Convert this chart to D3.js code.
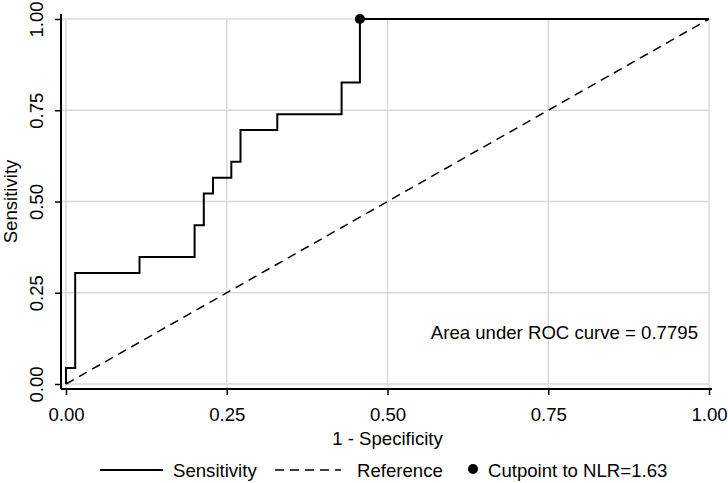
<!DOCTYPE html>
<html><head><meta charset="utf-8">
<script src="https://cdn.jsdelivr.net/npm/d3@7"></script>
<style>body{margin:0;background:#fff}svg{display:block}text{font-family:"Liberation Sans",Arial,sans-serif;fill:#000}</style>
</head><body>
<script>
// ROC step curve vertices (1 - specificity, sensitivity)
const fpr  = [0, 0, 0.0143, 0.0143, 0.1143, 0.1143, 0.2000, 0.2000, 0.2143, 0.2143, 0.2286, 0.2286, 0.2571, 0.2571, 0.2714, 0.2714, 0.3286, 0.3286, 0.4286, 0.4286, 0.4571, 0.4571, 1.0];
const sens = [0, 0.0435, 0.0435, 0.3043, 0.3043, 0.3478, 0.3478, 0.4348, 0.4348, 0.5217, 0.5217, 0.5652, 0.5652, 0.6087, 0.6087, 0.6957, 0.6957, 0.7391, 0.7391, 0.8261, 0.8261, 1.0, 1.0];
const cutpoint = [0.4571, 1.0];
const xTicks = [0, 0.25, 0.5, 0.75, 1];
const yTicks = [0, 0.25, 0.5, 0.75, 1];
const aucLabel = "Area under ROC curve = 0.7795";
const legendLabels = ["Sensitivity", "Reference", "Cutpoint to NLR=1.63"];

const W = 728, H = 483;
const svg = d3.select("body").append("svg").attr("width", W).attr("height", H);
const x = d3.scaleLinear().domain([0, 1]).range([66, 709]);
const y = d3.scaleLinear().domain([0, 1]).range([384, 19]);
const fs = 18.6;

// grid
svg.append("g").selectAll("line").data(yTicks).join("line")
  .attr("x1", 62).attr("x2", x(1)).attr("y1", d => y(d)).attr("y2", d => y(d))
  .attr("stroke", "#d9d9d9").attr("stroke-width", 1.5);
svg.append("g").selectAll("line").data(xTicks).join("line")
  .attr("x1", d => x(d)).attr("x2", d => x(d)).attr("y1", y(1)).attr("y2", 388)
  .attr("stroke", "#d9d9d9").attr("stroke-width", 1.5);

// axes
const xAxis = d3.axisBottom(x).tickValues(xTicks).tickFormat(d3.format(".2f")).tickSize(6).tickPadding(6);
const gx = svg.append("g").attr("transform", "translate(0,389)").call(xAxis);
gx.select(".domain").attr("d", "M61,0H712").attr("stroke", "#000").attr("stroke-width", 2);
gx.selectAll(".tick line").attr("stroke", "#000").attr("stroke-width", 1.5);
gx.selectAll(".tick text").attr("font-size", fs).attr("font-family", "Liberation Sans, Arial, sans-serif")
  .attr("dy", null).attr("y", 32);

const yAxis = d3.axisLeft(y).tickValues(yTicks).tickFormat(d3.format(".2f")).tickSize(6).tickPadding(6);
const gy = svg.append("g").attr("transform", "translate(61,0)").call(yAxis);
gy.select(".domain").attr("d", "M0,14V389").attr("stroke", "#000").attr("stroke-width", 2);
gy.selectAll(".tick line").attr("stroke", "#000").attr("stroke-width", 1.5);
gy.selectAll(".tick text").attr("font-size", fs).attr("font-family", "Liberation Sans, Arial, sans-serif")
  .attr("text-anchor", "middle").attr("dy", null)
  .attr("transform", "translate(-18,0) rotate(-90)").attr("x", 0).attr("y", 0);

// reference diagonal
svg.append("line").attr("x1", x(0)).attr("y1", y(0)).attr("x2", x(1)).attr("y2", y(1))
  .attr("stroke", "#000").attr("stroke-width", 1.5).attr("stroke-dasharray", "9,6");

// ROC curve
const pts = fpr.map((f, i) => [f, sens[i]]);
svg.append("path").datum(pts)
  .attr("d", d3.line().x(d => x(d[0])).y(d => y(d[1])))
  .attr("fill", "none").attr("stroke", "#000").attr("stroke-width", 2);

// cutpoint
svg.append("circle").attr("cx", x(cutpoint[0])).attr("cy", y(cutpoint[1])).attr("r", 5).attr("fill", "#000");

// AUC text
svg.append("text").attr("x", 698).attr("y", 339).attr("text-anchor", "end").attr("font-size", fs).text(aucLabel);

// axis titles
svg.append("text").attr("x", x(0.5)).attr("y", 445).attr("text-anchor", "middle").attr("font-size", fs).text("1 - Specificity");
svg.append("text").attr("transform", "translate(17," + y(0.5) + ") rotate(-90)").attr("text-anchor", "middle").attr("font-size", fs).text("Sensitivity");

// legend
const ly = 470;
const lg = svg.append("g");
lg.append("line").attr("x1", 100).attr("x2", 163).attr("y1", ly).attr("y2", ly).attr("stroke", "#000").attr("stroke-width", 2);
lg.append("text").attr("x", 173).attr("y", ly + 6.5).attr("font-size", fs).text(legendLabels[0]);
lg.append("line").attr("x1", 275).attr("x2", 341).attr("y1", ly).attr("y2", ly).attr("stroke", "#000").attr("stroke-width", 1.5).attr("stroke-dasharray", "9,6");
lg.append("text").attr("x", 357).attr("y", ly + 6.5).attr("font-size", fs).text(legendLabels[1]);
lg.append("circle").attr("cx", 473).attr("cy", ly - 1).attr("r", 5).attr("fill", "#000");
lg.append("text").attr("x", 488).attr("y", ly + 6.5).attr("font-size", fs).text(legendLabels[2]);
</script>
</body></html>
